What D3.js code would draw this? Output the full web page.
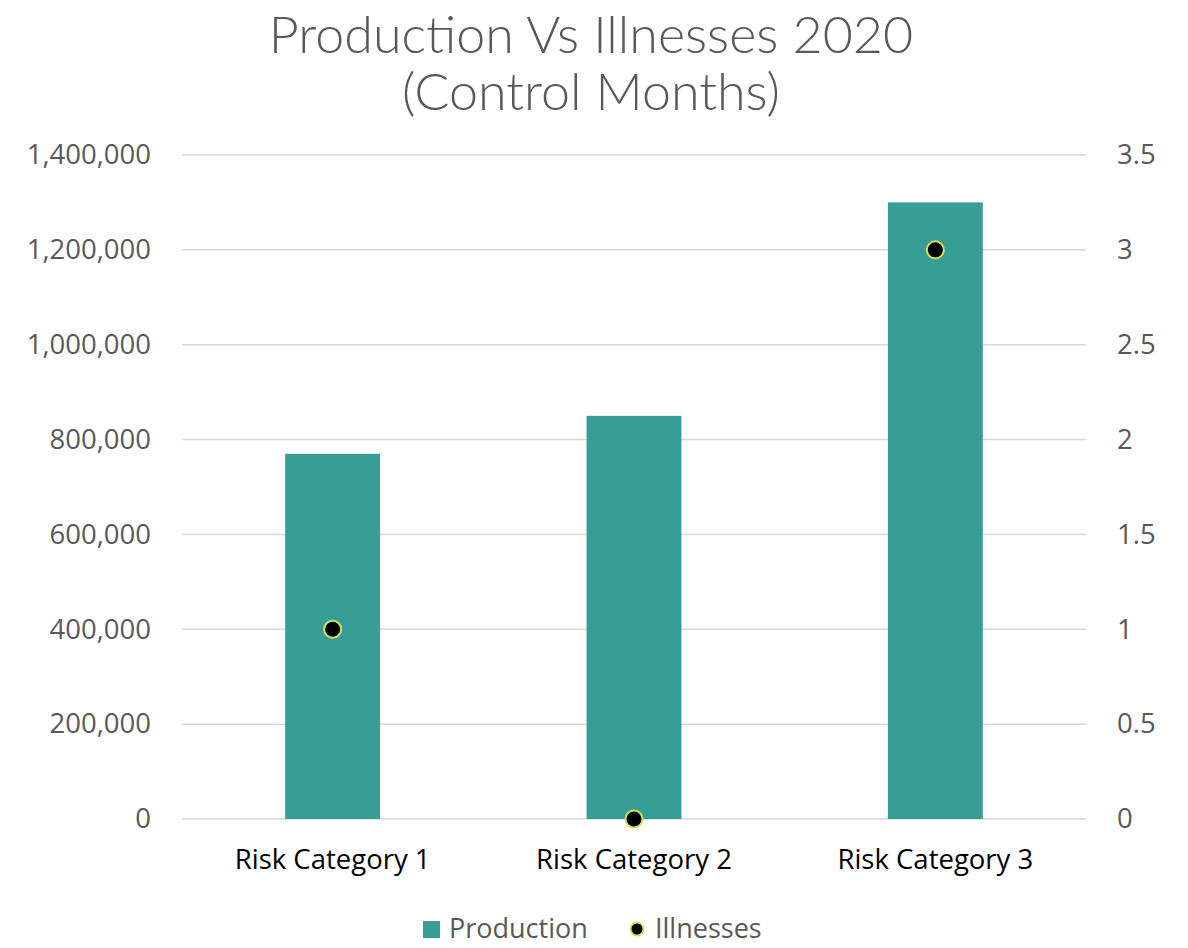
<!DOCTYPE html>
<html><head><meta charset="utf-8">
<script src="https://cdn.jsdelivr.net/npm/d3@7"></script>
<style>body{margin:0;background:#fff}</style>
</head><body>
<svg id="c" width="1188" height="948"></svg>
<script>
const categories = ["Risk Category 1", "Risk Category 2", "Risk Category 3"];
const production = [770000, 850000, 1300000];
const illnesses = [1, 0, 3];
const leftTicks = [0, 200000, 400000, 600000, 800000, 1000000, 1200000, 1400000];
const rightTicks = [0, 0.5, 1, 1.5, 2, 2.5, 3, 3.5];

const svg = d3.select("#c");
const L = 182, R = 1086, T = 155, B = 819;
const x = d3.scaleBand().domain(categories).range([L, R]).paddingInner(0.685).paddingOuter(0.3425);
const y = d3.scaleLinear().domain([0, 1400000]).range([B, T]);
const y2 = d3.scaleLinear().domain([0, 3.5]).range([B, T]);
const axisFont = "Open Sans, sans-serif";
const grey = "#595959";

// gridlines
svg.append("g").selectAll("line").data(leftTicks).join("line")
  .attr("x1", L).attr("x2", R).attr("y1", d => y(d)).attr("y2", d => y(d))
  .attr("stroke", "#d9d9d9").attr("stroke-width", 1.5);

// left axis
const la = svg.append("g").attr("transform", `translate(${L},0)`)
  .call(d3.axisLeft(y).tickValues(leftTicks).tickSize(0).tickPadding(31).tickFormat(d3.format(",")));
la.select(".domain").remove();
la.selectAll("text").attr("font-family", axisFont).attr("font-size", 27.5).attr("fill", grey);

// right axis
const ra = svg.append("g").attr("transform", `translate(${R},0)`)
  .call(d3.axisRight(y2).tickValues(rightTicks).tickSize(0).tickPadding(31).tickFormat(d => String(d)));
ra.select(".domain").remove();
ra.selectAll("text").attr("font-family", axisFont).attr("font-size", 27.5).attr("fill", grey);

// bars
svg.append("g").selectAll("rect").data(production).join("rect")
  .attr("x", (d, i) => x(categories[i])).attr("width", x.bandwidth())
  .attr("y", d => y(d)).attr("height", d => B - y(d)).attr("fill", "#369e95");

// markers
svg.append("g").selectAll("circle").data(illnesses).join("circle")
  .attr("cx", (d, i) => x(categories[i]) + x.bandwidth() / 2).attr("cy", d => y2(d))
  .attr("r", 8.5).attr("fill", "#000").attr("stroke", "#d4e157").attr("stroke-width", 2);

// x axis labels
const xa = svg.append("g").attr("transform", `translate(0,${B})`)
  .call(d3.axisBottom(x).tickSize(0).tickPadding(30));
xa.select(".domain").remove();
xa.selectAll("text").attr("font-family", axisFont).attr("font-size", 27.5).attr("fill", "#000");

// title
const title = svg.append("text").attr("text-anchor", "middle").attr("fill", grey)
  .attr("font-family", "Lato, sans-serif").attr("font-weight", 300).attr("font-size", 52);
title.append("tspan").attr("x", 591).attr("y", 53).text("Production Vs Illnesses 2020");
title.append("tspan").attr("x", 591).attr("y", 110).text("(Control Months)");

// legend
const lg = svg.append("g");
lg.append("rect").attr("x", 423).attr("y", 921).attr("width", 17).attr("height", 17).attr("fill", "#369e95");
lg.append("text").attr("x", 449).attr("y", 938).text("Production")
  .attr("font-family", axisFont).attr("font-size", 27).attr("fill", grey);
lg.append("circle").attr("cx", 637).attr("cy", 929).attr("r", 6.5).attr("fill", "#000")
  .attr("stroke", "#d4e157").attr("stroke-width", 2);
lg.append("text").attr("x", 655).attr("y", 938).text("Illnesses")
  .attr("font-family", axisFont).attr("font-size", 27).attr("fill", grey);
</script>
</body></html>
